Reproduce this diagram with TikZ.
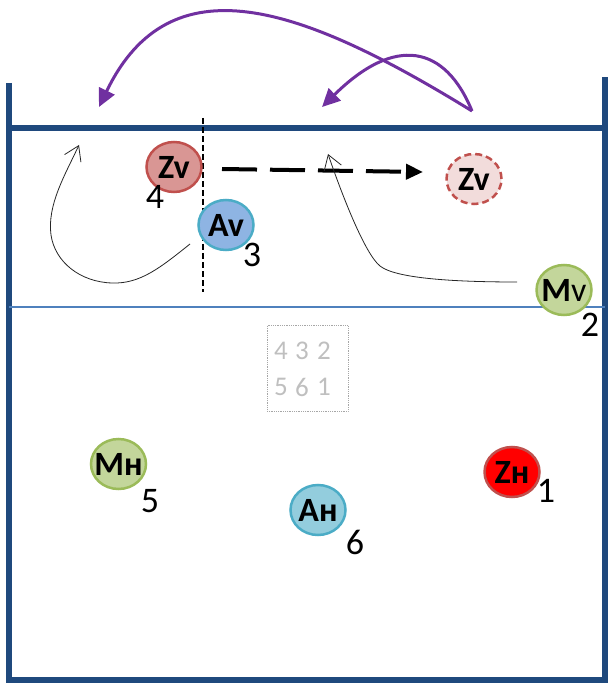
\documentclass[tikz,border=0pt]{standalone}
\usepackage{fontspec}
\setmainfont{Carlito}
\usetikzlibrary{arrows.meta,shapes.geometric}
\definecolor{court}{HTML}{1F497D}
\definecolor{midl}{HTML}{4F81BD}
\definecolor{redb}{HTML}{C0504D}
\definecolor{redf}{HTML}{D99694}
\definecolor{ghostf}{HTML}{F2DCDB}
\definecolor{bluef}{HTML}{8EB4E3}
\definecolor{cyanb}{HTML}{4BACC6}
\definecolor{cyanf}{HTML}{93CDDD}
\definecolor{greenf}{HTML}{C3D69B}
\definecolor{greenb}{HTML}{9BBB59}
\definecolor{purp}{HTML}{7030A0}
\definecolor{gridt}{HTML}{BFBFBF}
\definecolor{gridb}{HTML}{A6A6A6}
\newcommand\ptxt[1]{\makebox[20pt]{#1}}
\tikzset{
  player/.style={ellipse, minimum width=55pt, minimum height=50pt, inner sep=0pt, line width=2.5pt,
    font=\fontsize{34}{36}\selectfont\bfseries},
  num/.style={font=\fontsize{36}{38}\selectfont, inner sep=0pt},
  gnum/.style={font=\fontsize{27}{29}\selectfont, text=gridt, inner sep=0pt},
  thinarr/.style={line width=0.8pt, black!85, -{Straight Barb[length=14pt,width=18pt]}},
  purarr/.style={line width=3pt, purp, -{Triangle[length=18pt,width=17pt]}},
}
\begin{document}
\begin{tikzpicture}[x=1pt,y=-1pt]
\useasboundingbox (0,0) rectangle (609,684);
% court
\draw[court, line width=6pt] (9,83) -- (9,680) -- (605,680) -- (605,77);
\draw[court, line width=6pt] (9,128) -- (608,128);
\draw[midl, line width=2pt] (9,307) -- (605,307);
% net dashed
\coordinate (nt) at (203,118);
\coordinate (nb) at (203,292);
\draw[black, line width=1.6pt, dash pattern=on 6pt off 3pt] (nt) -- (nb);
% grid box
\node[draw=gridb, densely dotted, line width=0.8pt, minimum width=81pt, minimum height=86pt] (grid) at (307.5,368.5) {};
\node[gnum] (g4) at (281,351) {4};
\node[gnum] (g3) at (302,351) {3};
\node[gnum] (g2) at (324,351) {2};
\node[gnum] (g5) at (281,387) {5};
\node[gnum] (g6) at (302,387) {6};
\node[gnum] (g1) at (324,387) {1};
% players
\node[player, draw=redb, fill=redf] (zv) at (174,167) {\ptxt{Zv}};
\node[player, draw=cyanb, fill=bluef] (av) at (226,225) {\ptxt{Av}};
\node[player, draw=redb, fill=ghostf, dashed, dash pattern=on 7pt off 4pt] (zvg) at (474,179) {\ptxt{Zv}};
\node[player, draw=greenb, fill=greenf] (mv) at (564,290) {\ptxt{M\mdseries v}};
\node[player, draw=greenb, fill=greenf] (mh) at (118.5,464) {\ptxt{Mн}};
\node[player, draw=cyanb, fill=cyanf] (ah) at (318,510) {\ptxt{Aн}};
\node[player, draw=redb, fill=red] (zh) at (512,472) {\ptxt{Zн}};
% numbers
\node[num] (l4) at (155,197) {4};
\node[num] (l3) at (252,255) {3};
\node[num] (l2) at (590,325) {2};
\node[num] (l5) at (150,501) {5};
\node[num] (l6) at (355,542) {6};
\node[num] (l1) at (546,491) {1};
% dashed move arrow
\coordinate (ds) at (222,169);
\coordinate (de) at (423,172);
\draw[line width=4pt, dash pattern=on 35pt off 13pt, -{Triangle[length=17pt,width=15pt]}] (ds) -- (de);
% thin curved arrows
\coordinate (a1s) at (190,244);
\coordinate (a1m) at (112,283);
\coordinate (a1l) at (51,235);
\coordinate (a1e) at (79,145);
\draw[thinarr] (a1s) .. controls (160,268) and (140,284) .. (a1m)
  .. controls (80,282) and (55,262) .. (a1l)
  .. controls (47,205) and (65,175) .. (a1e);
\coordinate (a2s) at (517,282);
\coordinate (a2m) at (380,266);
\coordinate (a2e) at (328,154);
\draw[thinarr] (a2s) .. controls (450,282) and (395,278) .. (a2m)
  .. controls (365,254) and (342,195) .. (a2e);
% purple arrows
\coordinate (p0) at (472,111);
\coordinate (p1) at (99,107);
\coordinate (p2) at (322,107);
\draw[purarr] (p0) .. controls (300,5) and (170,-40) .. (p1);
\draw[purarr] (p0) .. controls (445,45) and (395,35) .. (p2);
\end{tikzpicture}
\end{document}
